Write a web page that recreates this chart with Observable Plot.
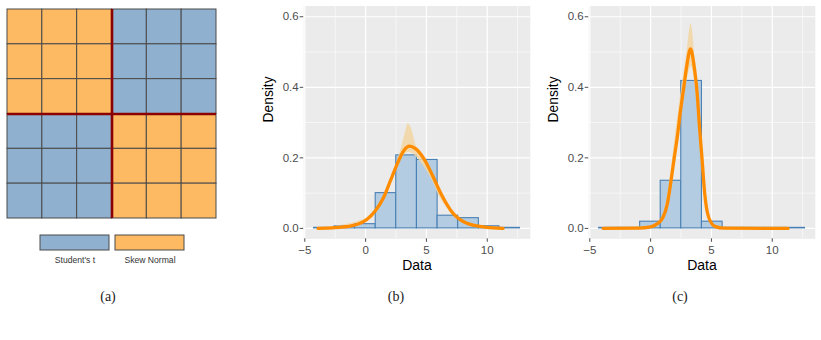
<!DOCTYPE html>
<html><head><meta charset="utf-8">
<script src="https://cdn.jsdelivr.net/npm/d3@7"></script>
<script src="https://cdn.jsdelivr.net/npm/@observablehq/plot@0.6"></script>
<style>
body{margin:0;background:#fff;}
#root{position:relative;width:821px;height:340px;overflow:hidden;background:#fff;font-family:"Liberation Sans",Arial,sans-serif;}
#root > *{position:absolute;}
.cap{font-family:"Liberation Serif","DejaVu Serif",serif;font-size:14px;color:#222;transform:translateX(-50%);line-height:1;}
</style></head><body><div id="root"></div>
<script>
// ---------- Panel (a) data ----------
const legendLabels = ["Student's t", "Skew Normal"];
const legendColors = ["#8FB0CF", "#FDBA63"];
const gridRowsA = [
  ["Skew Normal","Skew Normal","Skew Normal","Student's t","Student's t","Student's t"],
  ["Skew Normal","Skew Normal","Skew Normal","Student's t","Student's t","Student's t"],
  ["Skew Normal","Skew Normal","Skew Normal","Student's t","Student's t","Student's t"],
  ["Student's t","Student's t","Student's t","Skew Normal","Skew Normal","Skew Normal"],
  ["Student's t","Student's t","Student's t","Skew Normal","Skew Normal","Skew Normal"],
  ["Student's t","Student's t","Student's t","Skew Normal","Skew Normal","Skew Normal"]
];
const gridSize = [6];
const quadrantSplit = [3];

// ---------- Panels (b),(c) data ----------
const binEdges = [-4.24, -2.55, -0.86, 0.83, 2.52, 4.22, 5.92, 7.61, 9.31, 11.0, 12.69];
const densityB = [0.0015, 0.006, 0.012, 0.100, 0.207, 0.194, 0.036, 0.029, 0.006, 0.0015];
const densityC = [0.0015, 0.0015, 0.019, 0.135, 0.418, 0.019, 0.0015, 0.0015, 0.0015, 0.0015];

const curveBx = [-3.9, -2.5, -1.2, 0.1, 0.8, 1.5, 2.05, 2.6, 3.15, 3.6, 4.1, 4.8, 5.5, 6.2, 7.0, 8.1, 9.5, 10.8, 11.3];
const curveBy = [0, 0.002, 0.007, 0.025, 0.05, 0.089, 0.136, 0.183, 0.221, 0.233, 0.226, 0.197, 0.15, 0.098, 0.051, 0.018, 0.005, 0.001, 0];
const bandBx  = [-3.9, 0, 1, 2, 2.6, 3.0, 3.25, 3.5, 3.75, 3.9, 4.1, 4.5, 5, 5.5, 6, 7, 8, 9.5, 11.3];
const bandBhi = [0, 0.027, 0.06, 0.135, 0.19, 0.235, 0.268, 0.296, 0.285, 0.268, 0.24, 0.215, 0.19, 0.155, 0.115, 0.053, 0.02, 0.005, 0];
const bandBlo = [0, 0.022, 0.055, 0.125, 0.17, 0.2, 0.21, 0.215, 0.214, 0.212, 0.205, 0.19, 0.165, 0.135, 0.095, 0.048, 0.017, 0.004, 0];

const curveCx = [-3.9, -1, 0, 0.5, 1.0, 1.37, 1.64, 1.91, 2.19, 2.46, 2.73, 3.0, 3.28, 3.55, 3.83, 4.02, 4.24, 4.45, 4.78, 5.33, 6, 11.3];
const curveCy = [0, 0.0005, 0.004, 0.012, 0.03, 0.069, 0.126, 0.192, 0.258, 0.334, 0.40, 0.467, 0.509, 0.467, 0.381, 0.287, 0.192, 0.098, 0.031, 0.005, 0.0005, 0];
const bandCx  = [-3.9, 0, 1, 1.3, 1.6, 1.85, 2.1, 2.4, 2.7, 3.0, 3.2, 3.33, 3.45, 3.6, 3.85, 4.05, 4.25, 4.5, 4.8, 5.4, 6, 11.3];
const bandChi = [0, 0.006, 0.035, 0.075, 0.14, 0.21, 0.28, 0.36, 0.43, 0.5, 0.56, 0.58, 0.56, 0.5, 0.4, 0.3, 0.2, 0.1, 0.035, 0.006, 0, 0];
const bandClo = [0, 0.003, 0.025, 0.055, 0.1, 0.16, 0.22, 0.29, 0.36, 0.42, 0.45, 0.46, 0.45, 0.42, 0.34, 0.25, 0.16, 0.08, 0.025, 0.003, 0, 0];

const xTicksMajor = [-5, 0, 5, 10];
const xTicksMinor = [-2.5, 2.5, 7.5, 12.5];
const yTicksMajor = [0, 0.2, 0.4, 0.6];
const yTicksMinor = [0.1, 0.3, 0.5];
const xDomain = [-5.09, 13.54];
const yDomain = [-0.0295, 0.6305];
const captions = ["(a)", "(b)", "(c)"];

const root = document.getElementById("root");
function place(el, left, top) { el.style.left = left + "px"; el.style.top = top + "px"; root.appendChild(el); }

// ---------- Panel (a) ----------
const cells = [];
gridRowsA.forEach((row, r) => row.forEach((dist, c) => cells.push({r, c, dist})));
const colorScale = {domain: legendLabels, range: legendColors};

const plotA = Plot.plot({
  width: 225, height: 225, margin: 0,
  x: {domain: [0, gridSize[0]], range: [7, 216], axis: null},
  y: {domain: [0, gridSize[0]], range: [9, 218], axis: null},
  color: colorScale,
  marks: [
    Plot.rect(cells, {x1: "c", x2: d => d.c + 1, y1: "r", y2: d => d.r + 1, fill: "dist", stroke: "#4a4a4a", strokeWidth: 1}),
    Plot.ruleX(quadrantSplit, {y1: 0, y2: gridSize[0], stroke: "#8B0000", strokeWidth: 2.6}),
    Plot.ruleY(quadrantSplit, {x1: 0, x2: gridSize[0], stroke: "#8B0000", strokeWidth: 2.6})
  ]
});
place(plotA, 0, 0);

const legendA = Plot.plot({
  width: 225, height: 45, margin: 0,
  style: {fontFamily: "Liberation Sans, Arial, sans-serif"},
  x: {type: "band", domain: legendLabels, range: [39, 184], paddingInner: 0.08, paddingOuter: 0, axis: null},
  y: {type: "band", domain: ["key"], range: [9.3, 25], padding: 0, axis: null},
  color: colorScale,
  marks: [
    Plot.cell(legendLabels, {x: d => d, y: () => "key", fill: d => d, stroke: "#4a4a4a", strokeWidth: 1}),
    Plot.text(legendLabels, {x: d => d, y: () => "key", text: d => d, dy: 20, lineAnchor: "bottom", fontSize: 8.6, fill: "#333"})
  ]
});
place(legendA, 0, 225);

// ---------- Panels (b),(c) ----------
function densityPlot(dens, cx, cy, bx, bhi, blo) {
  const bins = dens.map((d, i) => ({x1: binEdges[i], x2: binEdges[i + 1], d}));
  const curve = cx.map((x, i) => ({x, y: cy[i]}));
  const band = bx.map((x, i) => ({x, lo: blo[i], hi: bhi[i]}));
  return Plot.plot({
    width: 286, height: 275,
    marginLeft: 53.2, marginRight: 6.2, marginTop: 5.5, marginBottom: 36.7,
    style: {fontFamily: "Liberation Sans, Arial, sans-serif", fontSize: "11.5px", background: "transparent"},
    x: {domain: xDomain},
    y: {domain: yDomain},
    marks: [
      Plot.frame({fill: "#EBEBEB", stroke: null}),
      Plot.gridX({ticks: xTicksMinor, stroke: "white", strokeOpacity: 1, strokeWidth: 0.6}),
      Plot.gridY({ticks: yTicksMinor, stroke: "white", strokeOpacity: 1, strokeWidth: 0.6}),
      Plot.gridX({ticks: xTicksMajor, stroke: "white", strokeOpacity: 1, strokeWidth: 1.2}),
      Plot.gridY({ticks: yTicksMajor, stroke: "white", strokeOpacity: 1, strokeWidth: 1.2}),
      Plot.rect(bins, {x1: "x1", x2: "x2", y1: 0, y2: "d", fill: "#B4CCE1", stroke: "#4A80B4", strokeWidth: 1.1}),
      Plot.areaY(band, {x: "x", y1: "lo", y2: "hi", fill: "#F2D6A2", fillOpacity: 0.85, curve: "monotone-x"}),
      Plot.line(curve, {x: "x", y: "y", stroke: "#FF8C00", strokeWidth: 3.3, curve: "monotone-x"}),
      Plot.axisX({ticks: xTicksMajor, tickSize: 3.5, tickPadding: 3.5, label: null, color: "#4D4D4D", fontSize: 11.5}),
      Plot.axisY({ticks: yTicksMajor, tickFormat: d3.format(".1f"), tickSize: 3.5, tickPadding: 1.5, label: null, color: "#4D4D4D", fontSize: 11.5}),
      Plot.text(["Data"], {frameAnchor: "bottom", lineAnchor: "bottom", dy: 30.7, fontSize: 14, fill: "black"}),
      Plot.text(["Density"], {frameAnchor: "left", rotate: -90, dx: -35.2, fontSize: 13.8, fill: "black"})
    ]
  });
}
place(densityPlot(densityB, curveBx, curveBy, bandBx, bandBhi, bandBlo), 250, 0);
place(densityPlot(densityC, curveCx, curveCy, bandCx, bandChi, bandClo), 535, 0);

// ---------- Captions ----------
const capX = [108, 396, 680];
captions.forEach((t, i) => {
  const d = document.createElement("div");
  d.className = "cap";
  d.textContent = t;
  place(d, capX[i], 290);
});
</script></body></html>
